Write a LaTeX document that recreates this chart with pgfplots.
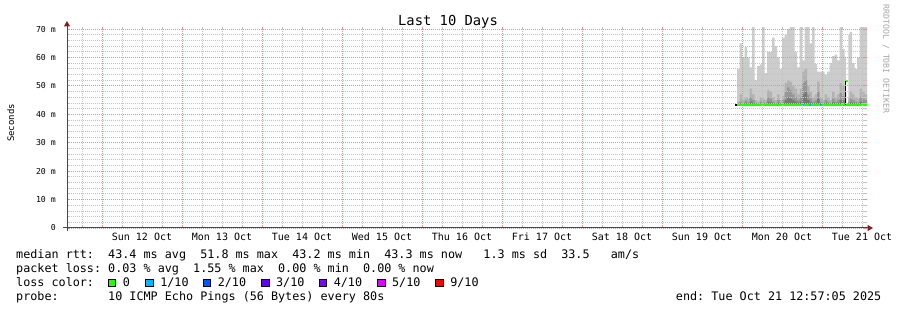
\documentclass[border=0pt]{standalone}
\usepackage{pgfplots}
\pgfplotsset{compat=1.18}
\usepackage{pgfplotstable}
\usepackage{fontspec}
\setmainfont{DejaVu Sans Mono}
\usetikzlibrary{arrows.meta}
\frenchspacing

\definecolor{majgrid}{RGB}{240,140,140}
\definecolor{mingrid}{RGB}{195,195,195}
\definecolor{smokeA}{RGB}{204,204,204}
\definecolor{smokeB}{RGB}{178,178,178}
\definecolor{smokeC}{RGB}{150,150,150}
\definecolor{smokeD}{RGB}{120,120,120}
\definecolor{loss0}{RGB}{38,255,0}
\definecolor{loss1}{RGB}{0,184,255}
\definecolor{loss2}{RGB}{0,89,255}
\definecolor{loss3}{RGB}{94,0,255}
\definecolor{loss4}{RGB}{126,0,255}
\definecolor{loss5}{RGB}{221,0,255}
\definecolor{loss9}{RGB}{255,0,0}
\definecolor{arrowred}{RGB}{128,32,32}
\definecolor{axisgray}{RGB}{70,70,70}

\pgfplotstableread{
x a b c d
7.9375 43.2 43.2 43.2 43.2
7.9375 56 44.5 43.8 43.5
7.96875 65 47 44.5 43.8
8.0 60 45 44 43.6
8.03125 63.6 46 44.8 44
8.0625 60 45.5 44.2 43.7
8.09375 56.5 49 46 44.5
8.125 70.7 47 45 44
8.15625 52 45 44 43.6
8.1875 57 44.5 43.8 43.5
8.21875 57.6 46 44.5 43.8
8.25 70.7 45.5 44.2 43.7
8.28125 54.5 45 44 43.6
8.3125 62 48.5 46 44.5
8.34375 62 48 45.5 44.2
8.375 67 46 44.5 43.8
8.40625 64 45 44 43.6
8.4375 60 47 45 44
8.46875 56 45 44 43.6
8.5 67 46.5 45 44
8.53125 68 51 48 45
8.5625 70 52 49.5 46
8.59375 70.7 51.5 48.5 45.5
8.625 70.7 50 47 45
8.65625 62 49 46 44.5
8.6875 56.5 47 45 44
8.71875 70.7 49 46 44.5
8.75 59 55 51 47
8.78125 70.7 56 52 48
8.8125 70.7 50 47 45
8.84375 65 48 45.5 44.2
8.875 70.7 46 44.5 43.8
8.90625 57.7 47 45 44
8.9375 55 51.5 48 45.5
8.96875 55 46 44.5 43.8
9.0 55 45 44 43.6
9.03125 54 47 45 44
9.0625 55 46 44.5 43.8
9.09375 58 45 44 43.6
9.125 60.5 48 45.5 44.2
9.15625 61 46 44.5 43.8
9.1875 59 47 45 44
9.21875 70.7 51 47.5 45
9.25 63 50 46.5 44.8
9.28125 60 48 45 44
9.3 43.2 43.2 43.2 43.2
9.32875 68 46 44.5 43.8
9.34375 69 48 45.5 44.2
9.375 58 47 45 44
9.40625 56 46 44.5 43.8
9.4375 60 45.5 44.2 43.7
9.46875 70.7 49 46 44.5
9.5 70.7 48 45.5 44.2
9.53125 70.7 47 45 44
9.5625 70.7 47 45 44
9.5625 43.2 43.2 43.2 43.2
}\smoke

\newcommand{\legfont}{\fontsize{11.76}{14}\selectfont}

\begin{document}
\begin{tikzpicture}
\useasboundingbox (0,0) rectangle (897pt,310pt);
\fill[white] (0,0) rectangle (897pt,310pt);
\begin{axis}[
  at={(67pt,82pt)}, anchor=south west,
  x=80pt, y=2.842pt,
  xmin=-0.4375, xmax=9.5625, ymin=0, ymax=70.7,
  axis line style={draw=none},
  axis on top,
  tick align=inside, tick pos=both,
  major tick length=3pt, minor tick length=3pt,
  major tick style={majgrid, line width=0.8pt, solid},
  minor tick style={mingrid, line width=0.8pt, solid},
  xmajorgrids, xminorgrids, ymajorgrids, yminorgrids,
  major grid style={majgrid, line width=0.8pt, dash pattern=on 1pt off 1pt},
  minor grid style={mingrid, line width=0.8pt, dash pattern=on 1pt off 1pt},
  xtick={0,1,2,3,4,5,6,7,8,9},
  xticklabels={},
  minor xtick={-0.25,0.25,0.5,0.75,1.25,1.5,1.75,2.25,2.5,2.75,3.25,3.5,3.75,4.25,4.5,4.75,5.25,5.5,5.75,6.25,6.5,6.75,7.25,7.5,7.75,8.25,8.5,8.75,9.25,9.5},
  extra x ticks={0.5,1.5,2.5,3.5,4.5,5.5,6.5,7.5,8.5,9.5},
  extra x tick labels={Sun 12 Oct,Mon 13 Oct,Tue 14 Oct,Wed 15 Oct,Thu 16 Oct,Fri 17 Oct,Sat 18 Oct,Sun 19 Oct,Mon 20 Oct,Tue 21 Oct},
  extra x tick style={grid=none, major tick length=0pt},
  xticklabel style={font=\fontsize{10}{12}\selectfont, anchor=base, inner sep=0pt, yshift=-12.7pt},
  ytick={0,10,20,30,40,50,60,70},
  yticklabels={0,10 m,20 m,30 m,40 m,50 m,60 m,70 m},
  minor y tick num=4,
  yticklabel style={font=\fontsize{8.2}{10}\selectfont, anchor=east, inner sep=0pt, xshift=-11pt},
]
\addplot[const plot, fill=smokeA, draw=none] table[x=x,y=a]{\smoke} -- cycle;
\addplot[const plot, fill=smokeB, draw=none] table[x=x,y=b]{\smoke} -- cycle;
\addplot[const plot, fill=smokeC, draw=none] table[x=x,y=c]{\smoke} -- cycle;
\addplot[const plot, fill=smokeD, draw=none] table[x=x,y=d]{\smoke} -- cycle;
% median line
\addplot[draw=loss0, line width=2.3pt] coordinates {(7.9375,43.2) (9.5625,43.2)};
\addplot[draw=black, line width=2.3pt] coordinates {(7.918,43.2) (7.9375,43.2)};
\addplot[draw=loss1, line width=2.3pt] coordinates {(8.75375,43.2) (8.775,43.2)};
\addplot[draw=loss1, line width=2.3pt] coordinates {(8.8375,43.2) (8.8625,43.2)};
\addplot[draw=loss1, line width=2.3pt] coordinates {(8.975,43.2) (8.99625,43.2)};
\addplot[draw=black, line width=1pt] coordinates {(9.29375,43.2) (9.29375,51.8)};
\addplot[draw=loss0, line width=2pt] coordinates {(9.2944,51.8) (9.32875,51.8)};
\end{axis}
% axis lines with arrows
\draw[axisgray, line width=1pt, -{Triangle[length=5.5pt,width=6pt,color=arrowred]}] (63pt,82pt) -- (873pt,82pt);
\draw[axisgray, line width=1pt, -{Triangle[length=5.5pt,width=6pt,color=arrowred]}] (67pt,79pt) -- (67pt,289pt);
% titles
\node[anchor=base, inner sep=0pt, font=\fontsize{13.8}{16}\selectfont] at (448pt,284pt) {Last 10 Days};
\node[rotate=90, inner sep=0pt, font=\fontsize{9}{11}\selectfont] at (10.7pt,187pt) {Seconds};
\node[rotate=-90, inner sep=0pt, text=black!35, font=\fontsize{8.2}{10}\selectfont] at (886pt,251pt) {RRDTOOL / TOBI OETIKER};
% legend
\node[anchor=base west, inner sep=0pt, font=\legfont] at (16pt,51pt) {median rtt:~~43.4 ms avg~~51.8 ms max~~43.2 ms min~~43.3 ms now~~~1.3 ms sd~~33.5~~~am/s};
\node[anchor=base west, inner sep=0pt, font=\legfont] at (16pt,37.3pt) {packet loss: 0.03 \% avg~~1.55 \% max~~0.00 \% min~~0.00 \% now};
\node[anchor=base west, inner sep=0pt, font=\legfont] at (16pt,23.3pt) {loss color:};
\foreach \cx/\col/\lab in {112/loss0/0, 149.5/loss1/1\slash 10, 207/loss2/2\slash 10, 265.3/loss3/3\slash 10, 323/loss4/4\slash 10, 381.3/loss5/5\slash 10, 439.5/loss9/9\slash 10}{
  \draw[fill=\col, draw=black, line width=0.8pt] (\cx pt-3.7pt,23.3pt) rectangle (\cx pt+3.7pt,30.7pt);
  \node[anchor=base west, inner sep=0pt, font=\legfont] at (\cx pt+10.6pt,23.3pt) {\lab};
}
\node[anchor=base west, inner sep=0pt, font=\legfont] at (16pt,9.3pt) {probe:~~~~~~~10 ICMP Echo Pings (56 Bytes) every 80s};
\node[anchor=base east, inner sep=0pt, font=\legfont] at (881.5pt,9.3pt) {end: Tue Oct 21 12:57:05 2025};
\end{tikzpicture}
\end{document}
